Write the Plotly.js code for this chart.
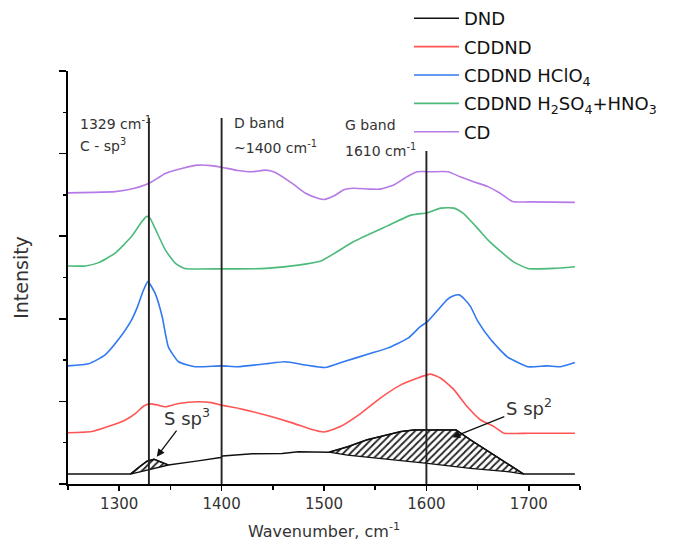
<!DOCTYPE html>
<html>
<head>
<meta charset="utf-8">
<script src="https://cdn.plot.ly/plotly-3.0.1.min.js"></script>
<style>html,body{margin:0;padding:0;background:#fff;}#chart{width:683px;height:549px;}</style>
</head>
<body>
<div id="chart"></div>
<script>
// ---- data ----
const seriesNames = ['DND', 'CDDND', 'CDDND HClO<sub>4</sub>', 'CDDND H<sub>2</sub>SO<sub>4</sub>+HNO<sub>3</sub>', 'CD'];

const dndX = [1250, 1311, 1320, 1327, 1334, 1342, 1348, 1377, 1399, 1401, 1430, 1459, 1475, 1505, 1523, 1542, 1562, 1575, 1588, 1629, 1643, 1669, 1695, 1745];
const dndY = [0.24, 0.24, 0.42, 0.55, 0.60, 0.52, 0.46, 0.56, 0.64, 0.68, 0.73, 0.74, 0.78, 0.77, 0.90, 1.07, 1.19, 1.27, 1.31, 1.31, 1.07, 0.66, 0.24, 0.24];

const cddndX = [1250, 1273, 1289, 1306, 1316, 1324, 1330, 1338, 1345, 1358, 1377, 1390, 1400, 1417, 1443, 1469, 1488, 1500, 1516, 1536, 1555, 1575, 1591, 1604, 1614, 1627, 1640, 1653, 1666, 1676, 1700, 1745];
const cddndY = [1.24, 1.27, 1.39, 1.55, 1.71, 1.89, 1.94, 1.91, 1.87, 1.95, 1.99, 1.97, 1.91, 1.83, 1.67, 1.48, 1.32, 1.26, 1.39, 1.71, 2.08, 2.40, 2.56, 2.66, 2.56, 2.28, 1.87, 1.55, 1.39, 1.23, 1.23, 1.23];

const hclo4X = [1250, 1270, 1286, 1299, 1312, 1318, 1323, 1328, 1335, 1342, 1348, 1358, 1374, 1400, 1416, 1443, 1462, 1482, 1501, 1519, 1545, 1562, 1582, 1594, 1601, 1614, 1620, 1626, 1632, 1637, 1643, 1650, 1663, 1679, 1699, 1718, 1731, 1745];
const hclo4Y = [2.86, 2.91, 3.12, 3.49, 3.97, 4.30, 4.65, 4.90, 4.62, 4.05, 3.32, 2.96, 2.84, 2.86, 2.84, 2.91, 2.96, 2.88, 2.82, 2.96, 3.16, 3.29, 3.53, 3.81, 3.93, 4.29, 4.46, 4.55, 4.58, 4.48, 4.30, 3.95, 3.49, 3.08, 2.84, 2.86, 2.84, 2.94];

const acidX = [1250, 1267, 1280, 1296, 1312, 1322, 1327, 1330, 1335, 1345, 1355, 1364, 1400, 1443, 1475, 1497, 1529, 1562, 1585, 1601, 1614, 1627, 1636, 1650, 1660, 1673, 1685, 1699, 1724, 1745];
const acidY = [5.28, 5.28, 5.36, 5.59, 5.99, 6.35, 6.48, 6.44, 6.19, 5.67, 5.34, 5.22, 5.21, 5.22, 5.30, 5.40, 5.87, 6.25, 6.51, 6.57, 6.68, 6.68, 6.55, 6.19, 5.91, 5.62, 5.38, 5.22, 5.22, 5.26];

const cdX = [1250, 1275, 1296, 1315, 1325, 1332, 1345, 1361, 1377, 1390, 1400, 1416, 1430, 1443, 1452, 1469, 1482, 1494, 1500, 1510, 1519, 1529, 1545, 1555, 1568, 1581, 1591, 1605, 1621, 1633, 1646, 1660, 1672, 1684, 1700, 1745];
const cdY = [7.05, 7.06, 7.08, 7.16, 7.24, 7.32, 7.52, 7.64, 7.72, 7.71, 7.67, 7.59, 7.56, 7.60, 7.55, 7.28, 7.04, 6.92, 6.89, 6.98, 7.12, 7.16, 7.14, 7.14, 7.24, 7.44, 7.56, 7.56, 7.56, 7.44, 7.32, 7.20, 7.04, 6.84, 6.83, 6.82];

// hatched areas: baselines under the DND curve
const sp3BaseX = [1311, 1348];
const sp3BaseY = [0.24, 0.46];
const sp2BaseX = [1505, 1523, 1562, 1601, 1643, 1679, 1695];
const sp2BaseY = [0.77, 0.70, 0.60, 0.50, 0.38, 0.30, 0.24];

// marker lines
const bandX = [1329, 1400, 1600];
const bandTop = [8.86, 8.86, 8.06];

// text labels
const bandLabels = [
  {x: 1259.8, y: 8.74, text: '1329 cm<sup>-1</sup>'},
  {x: 1259.8, y: 8.21, text: 'C - sp<sup>3</sup>'},
  {x: 1410.4, y: 8.74, text: 'D band'},
  {x: 1410.4, y: 8.16, text: '~1400 cm<sup>-1</sup>'},
  {x: 1519.0, y: 8.69, text: 'G band'},
  {x: 1519.0, y: 8.09, text: '1610 cm<sup>-1</sup>'}
];
const areaLabels = [
  {x: 1366, y: 1.62, text: 'S sp<sup>3</sup>', headX: 1336.7, headY: 0.66},
  {x: 1700, y: 1.87, text: 'S sp<sup>2</sup>', headX: 1625.3, headY: 1.13}
];

const xTicks = [1300, 1400, 1500, 1600, 1700];
const colors = ['#111111', '#ff5555', '#3079f0', '#4cba7a', '#b57ae6'];

// ---- build ----
const FONT = 'DejaVu Sans, Verdana, sans-serif';

function region(lo, hi, baseX, baseY) {
  const ux = [], uy = [];
  for (let i = 0; i < dndX.length; i++) {
    if (dndX[i] >= lo && dndX[i] <= hi) { ux.push(dndX[i]); uy.push(dndY[i]); }
  }
  return {
    x: ux.concat(baseX.slice().reverse()),
    y: uy.concat(baseY.slice().reverse())
  };
}
const r3 = region(sp3BaseX[0], sp3BaseX[sp3BaseX.length - 1], sp3BaseX, sp3BaseY);
const r2 = region(sp2BaseX[0], sp2BaseX[sp2BaseX.length - 1], sp2BaseX, sp2BaseY);

function hatch(r) {
  return {
    x: r.x, y: r.y, type: 'scatter', mode: 'lines', fill: 'toself',
    fillcolor: 'white',
    fillpattern: {shape: '/', fgcolor: '#222', bgcolor: 'white', size: 5, solidity: 0.35},
    line: {color: '#111', width: 1.3}, showlegend: false, hoverinfo: 'skip'
  };
}

const seriesX = [dndX, cddndX, hclo4X, acidX, cdX];
const seriesY = [dndY, cddndY, hclo4Y, acidY, cdY];

const traces = [hatch(r3), hatch(r2)];
for (let i = 0; i < seriesNames.length; i++) {
  traces.push({
    x: seriesX[i], y: seriesY[i], type: 'scatter', mode: 'lines',
    name: seriesNames[i], legendgroup: 'g' + i,
    line: i === 0 ? {color: colors[i], width: 1.5} : {color: colors[i], width: 1.6, shape: 'spline', smoothing: 0.5}
  });
}

const shapes = bandX.map((bx, i) => ({
  type: 'line', xref: 'x', yref: 'y', x0: bx, x1: bx, y0: 0, y1: bandTop[i],
  line: {color: '#222', width: 1.9}, layer: 'above'
}));

const annotations = [];
bandLabels.forEach(l => annotations.push({
  x: l.x, y: l.y, xref: 'x', yref: 'y', text: l.text, showarrow: false,
  xanchor: 'left', yanchor: 'middle', font: {family: FONT, size: 14, color: '#333'}
}));
areaLabels.forEach(l => {
  annotations.push({
    x: l.headX, y: l.headY, ax: l.x, ay: l.y, xref: 'x', yref: 'y',
    axref: 'x', ayref: 'y', text: l.text, showarrow: true, standoff: 0,
    arrowhead: 2, arrowsize: 1.2, arrowwidth: 1.3, arrowcolor: '#111',
    font: {family: FONT, size: 18, color: '#333'}
  });
});

// plot box: x 68..580 px, y 71..484 px
const layout = {
  width: 683, height: 549,
  margin: {l: 68, r: 10, t: 0, b: 65},
  paper_bgcolor: 'white', plot_bgcolor: 'white',
  font: {family: FONT, color: '#222'},
  xaxis: {
    domain: [0, 512 / 605],
    range: [1250, 1750], showgrid: false, zeroline: false,
    showline: true, linecolor: '#000', linewidth: 1.6,
    ticks: 'outside', ticklen: 5, tickwidth: 1.5, tickcolor: '#000',
    tickmode: 'array', tickvals: xTicks, ticktext: xTicks.map(String),
    minor: {ticks: 'outside', dtick: 50, tick0: 1250, ticklen: 4, tickwidth: 1.5, tickcolor: '#000', showgrid: false},
    tickfont: {family: FONT, size: 15, color: '#333'},
    title: {text: 'Wavenumber, cm<sup>-1</sup>', font: {family: FONT, size: 16, color: '#333'}, standoff: 14}
  },
  yaxis: {
    domain: [0, 413 / 484],
    range: [0, 10], showgrid: false, zeroline: false,
    showline: true, linecolor: '#000', linewidth: 1.6,
    ticks: 'outside', ticklen: 7, tickwidth: 1.5, tickcolor: '#000',
    dtick: 2, tick0: 0, showticklabels: false,
    minor: {ticks: 'outside', dtick: 1, tick0: 0, ticklen: 3, tickwidth: 1.5, tickcolor: '#000', showgrid: false},
    title: {text: 'Intensity', font: {family: FONT, size: 19, color: '#333'}, standoff: 26}
  },
  legend: {
    x: 0.5636, y: 1.0, xanchor: 'left', yanchor: 'top',
    font: {family: FONT, size: 18, color: '#111'},
    bgcolor: 'rgba(0,0,0,0)', traceorder: 'grouped', tracegroupgap: 2, itemwidth: 45
  },
  shapes: shapes,
  annotations: annotations,
  showlegend: true
};

Plotly.newPlot('chart', traces, layout, {staticPlot: true, displayModeBar: false});
</script>
</body>
</html>
